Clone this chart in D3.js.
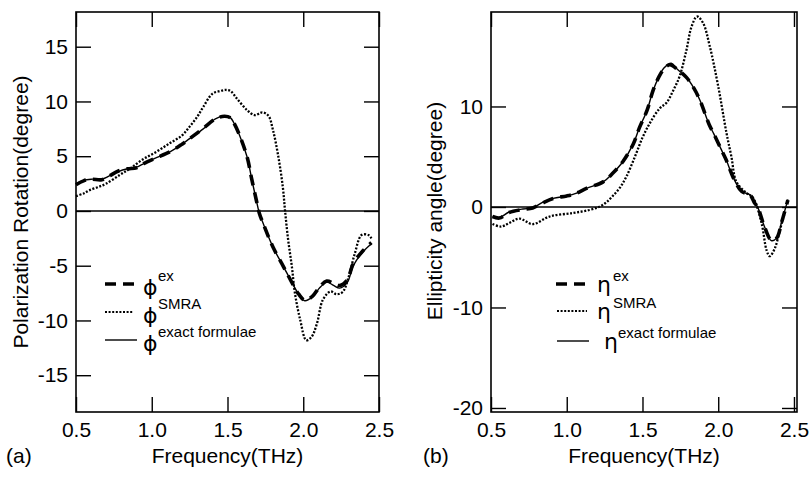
<!DOCTYPE html>
<html>
<head>
<meta charset="utf-8">
<script src="https://cdn.jsdelivr.net/npm/d3@7"></script>
<style>
  body { margin: 0; background: #fff; }
  svg text { font-family: "Liberation Sans", Arial, Helvetica, sans-serif; fill: #000; }
</style>
</head>
<body>
<div id="fig"></div>
<script>
// tick values and labels
const freqTicks = [0.5, 1.0, 1.5, 2.0, 2.5];
const freqTickLabels = ['0.5', '1.0', '1.5', '2.0', '2.5'];
const phiTicks = [-15, -10, -5, 0, 5, 10, 15];
const phiTickLabels = ['-15', '-10', '-5', '0', '5', '10', '15'];
const etaTicks = [-20, -10, 0, 10];
const etaTickLabels = ['-20', '-10', '0', '10'];

const legendNames = ['ex', 'SMRA', 'exact formulae'];

// (a) polarization rotation, degree
const phiExFreq = [0.50, 0.55, 0.60, 0.67, 0.72, 0.78, 0.84, 0.90, 0.95, 1.02, 1.12, 1.20, 1.25, 1.34, 1.42, 1.48, 1.52, 1.54, 1.58, 1.63, 1.66, 1.69, 1.71, 1.74, 1.80, 1.87, 1.92, 1.97, 2.01, 2.06, 2.11, 2.155, 2.20, 2.24, 2.29, 2.33, 2.39, 2.45];
const phiExVal = [2.4, 2.75, 2.9, 2.85, 3.2, 3.65, 3.85, 3.95, 4.35, 4.8, 5.4, 6.1, 6.6, 7.55, 8.4, 8.65, 8.5, 8.1, 6.9, 4.9, 2.9, 1.0, -0.2, -1.3, -3.3, -5.1, -6.4, -7.6, -8.15, -7.8, -6.9, -6.4, -6.6, -6.8, -6.3, -4.8, -3.7, -2.9];

const phiExactFreq = [0.50, 0.55, 0.60, 0.67, 0.72, 0.78, 0.84, 0.90, 0.95, 1.02, 1.12, 1.20, 1.25, 1.34, 1.42, 1.48, 1.52, 1.54, 1.58, 1.63, 1.66, 1.69, 1.71, 1.74, 1.80, 1.87, 1.92, 1.97, 2.01, 2.06, 2.11, 2.155, 2.20, 2.24, 2.29, 2.33, 2.39, 2.45];
const phiExactVal = [2.5, 2.8, 2.9, 2.9, 3.2, 3.6, 3.85, 4.0, 4.35, 4.8, 5.4, 6.1, 6.6, 7.5, 8.4, 8.7, 8.5, 8.1, 6.9, 4.9, 2.9, 1.0, -0.2, -1.3, -3.3, -5.1, -6.4, -7.6, -8.2, -7.85, -7.0, -6.5, -6.8, -7.05, -6.55, -5.0, -3.8, -3.0];

const phiSmraFreq = [0.50, 0.55, 0.59, 0.65, 0.70, 0.79, 0.86, 0.94, 1.03, 1.12, 1.20, 1.25, 1.30, 1.34, 1.40, 1.45, 1.49, 1.52, 1.56, 1.63, 1.68, 1.73, 1.77, 1.80, 1.835, 1.865, 1.88, 1.90, 1.925, 1.945, 1.98, 2.02, 2.055, 2.09, 2.13, 2.18, 2.22, 2.26, 2.30, 2.34, 2.385, 2.43, 2.45];
const phiSmraVal = [1.35, 1.6, 1.9, 2.2, 2.5, 3.3, 3.9, 4.7, 5.4, 6.2, 6.9, 7.7, 8.6, 9.5, 10.7, 10.95, 11.05, 10.95, 10.3, 9.2, 8.75, 9.0, 8.7, 7.4, 5.0, 2.2, 0.0, -2.6, -5.1, -7.5, -9.95, -11.8, -11.5, -10.3, -8.1, -7.35, -7.6, -7.4, -6.0, -3.9, -2.2, -2.2, -2.5];

// (b) ellipticity angle, degree
const etaExFreq = [0.51, 0.555, 0.62, 0.71, 0.775, 0.84, 0.91, 1.00, 1.06, 1.13, 1.24, 1.30, 1.37, 1.44, 1.48, 1.53, 1.57, 1.61, 1.64, 1.68, 1.73, 1.79, 1.84, 1.88, 1.94, 1.97, 2.03, 2.055, 2.10, 2.155, 2.21, 2.24, 2.26, 2.305, 2.35, 2.385, 2.42, 2.46];
const etaExVal = [-0.95, -1.1, -0.55, -0.25, -0.1, 0.4, 0.85, 1.1, 1.35, 1.85, 2.5, 3.3, 4.5, 6.3, 7.9, 9.6, 11.6, 13.0, 13.7, 14.15, 13.7, 12.9, 11.8, 10.6, 8.2, 7.3, 5.4, 4.6, 2.9, 1.55, 1.2, 0.4, 0.0, -1.95, -3.3, -3.1, -1.45, 0.7];

const etaExactFreq = [0.51, 0.555, 0.62, 0.71, 0.775, 0.84, 0.91, 1.00, 1.06, 1.13, 1.24, 1.30, 1.37, 1.44, 1.48, 1.53, 1.57, 1.61, 1.64, 1.69, 1.73, 1.79, 1.84, 1.88, 1.94, 1.97, 2.03, 2.055, 2.10, 2.155, 2.21, 2.24, 2.26, 2.305, 2.35, 2.385, 2.42, 2.46];
const etaExactVal = [-0.9, -1.05, -0.5, -0.2, -0.1, 0.45, 0.85, 1.1, 1.35, 1.85, 2.5, 3.3, 4.5, 6.3, 7.9, 9.6, 11.6, 13.0, 13.8, 14.3, 13.7, 12.9, 11.8, 10.6, 8.2, 7.3, 5.4, 4.6, 2.9, 1.55, 1.2, 0.4, 0.0, -1.95, -3.35, -3.1, -1.4, 0.75];

const etaSmraFreq = [0.51, 0.566, 0.62, 0.687, 0.775, 0.886, 1.04, 1.15, 1.216, 1.26, 1.304, 1.35, 1.393, 1.45, 1.50, 1.547, 1.613, 1.66, 1.70, 1.745, 1.79, 1.823, 1.86, 1.90, 1.944, 2.0, 2.054, 2.087, 2.12, 2.186, 2.23, 2.286, 2.319, 2.34, 2.374, 2.407, 2.44];
const etaSmraVal = [-1.7, -1.95, -1.6, -1.15, -1.7, -0.95, -0.6, -0.3, 0.03, 0.45, 1.1, 1.9, 3.0, 5.0, 6.9, 8.3, 9.8, 10.4, 11.5, 13.0, 15.6, 17.9, 18.95, 18.3, 16.0, 12.0, 7.4, 5.0, 2.5, 1.4, 0.9, -1.6, -4.3, -4.9, -4.1, -2.3, -0.5];

// line looks for the three series
const styles = {
    ex: { width: 3.6, dash: '11,7' },
    smra: { width: 2.3, dash: '2,1.6' },
    exact: { width: 1.4, dash: null }
};

const svg = d3.select('#fig').append('svg')
    .attr('width', 809)
    .attr('height', 477);

/*
one framed panel: box is [left, top, right, bottom] in pixels
*/
class Panel {

    constructor(svg, box, xDomain, yDomain) {
        this.box = box;
        this.g = svg.append('g');
        this.x = d3.scaleLinear(xDomain, [box[0], box[2]]);
        this.y = d3.scaleLinear(yDomain, [box[3], box[1]]);
    }

    axes(xTicks, xLabels, yTicks, yLabels) {
        const [l, t, r, b] = this.box;
        const tick = -15;

        const bottom = d3.axisBottom(this.x).tickValues(xTicks)
            .tickFormat((d, i) => xLabels[i]).tickSizeInner(tick).tickSizeOuter(0).tickPadding(10);
        const top = d3.axisTop(this.x).tickValues(xTicks)
            .tickFormat('').tickSizeInner(tick).tickSizeOuter(0);
        const left = d3.axisLeft(this.y).tickValues(yTicks)
            .tickFormat((d, i) => yLabels[i]).tickSizeInner(tick).tickSizeOuter(0).tickPadding(8);
        const right = d3.axisRight(this.y).tickValues(yTicks)
            .tickFormat('').tickSizeInner(tick).tickSizeOuter(0);

        this.g.append('g').attr('transform', `translate(0,${b})`).call(bottom);
        this.g.append('g').attr('transform', `translate(0,${t})`).call(top);
        this.g.append('g').attr('transform', `translate(${l},0)`).call(left);
        this.g.append('g').attr('transform', `translate(${r},0)`).call(right);

        this.g.selectAll('.domain').remove();
        this.g.selectAll('.tick line').attr('stroke', '#000').attr('stroke-width', 1.4);
        this.g.selectAll('.tick text')
            .attr('font-family', null)
            .style('font-size', '21px');

        // zero line across the panel
        this.g.append('line')
            .attr('x1', l).attr('x2', r)
            .attr('y1', this.y(0)).attr('y2', this.y(0))
            .attr('stroke', '#000').attr('stroke-width', 1.5);

        // frame
        this.g.append('rect')
            .attr('x', l).attr('y', t)
            .attr('width', r - l).attr('height', b - t)
            .attr('fill', 'none').attr('stroke', '#000').attr('stroke-width', 1.6);
    }

    series(freq, vals, style) {
        const line = d3.line()
            .x(d => this.x(d[0]))
            .y(d => this.y(d[1]))
            .curve(d3.curveCatmullRom.alpha(0.5));

        this.g.append('path')
            .datum(d3.zip(freq, vals))
            .attr('d', line)
            .attr('fill', 'none')
            .attr('stroke', '#000')
            .attr('stroke-width', style.width)
            .attr('stroke-dasharray', style.dash);
    }

    // rows: [sampleStart, sampleEnd, y, glyphX, supX]
    legend(glyph, names, rows, looks, glyphDy) {
        rows.forEach((row, i) => {
            const [x1, x2, y, gx, sx] = row;
            this.g.append('line')
                .attr('x1', x1).attr('x2', x2).attr('y1', y).attr('y2', y)
                .attr('stroke', '#000')
                .attr('stroke-width', i === 1 ? 1.8 : looks[i].width)
                .attr('stroke-dasharray', looks[i].dash);
            this.g.append('text')
                .attr('x', gx).attr('y', y + glyphDy)
                .style('font-family', '"DejaVu Sans", "Liberation Sans", sans-serif')
                .style('font-size', '22px')
                .text(glyph);
            this.g.append('text')
                .attr('x', sx).attr('y', y - 3)
                .style('font-size', '15px')
                .text(names[i]);
        });
    }
}

const looks = [styles.ex, styles.smra, styles.exact];

// panel (a)
const pa = new Panel(svg, [76, 12, 379, 412], [0.5, 2.5], [-18.36, 18.17]);
pa.axes(freqTicks, freqTickLabels, phiTicks, phiTickLabels);
pa.series(phiExactFreq, phiExactVal, styles.exact);
pa.series(phiExFreq, phiExVal, styles.ex);
pa.series(phiSmraFreq, phiSmraVal, styles.smra);
pa.legend('\u03D5', legendNames, [
    [105, 137, 284, 143, 158],
    [105, 133, 312, 143, 158],
    [105, 137, 340, 143, 158]
], looks, 11);

// panel (b)
const pb = new Panel(svg, [491, 12, 797, 412], [0.5, 2.52], [-20.4, 19.4]);
pb.axes(freqTicks, freqTickLabels, etaTicks, etaTickLabels);
pb.series(etaExactFreq, etaExactVal, styles.exact);
pb.series(etaExFreq, etaExVal, styles.ex);
pb.series(etaSmraFreq, etaSmraVal, styles.smra);
pb.legend('\u03B7', legendNames, [
    [556, 590, 284, 597, 613],
    [557, 587, 311, 597, 613],
    [557, 589, 341, 604, 618]
], looks, 8);

// axis titles and panel letters
const titles = svg.append('g').style('font-size', '21px');
titles.append('text')
    .attr('text-anchor', 'middle')
    .attr('transform', 'translate(28,212) rotate(-90)')
    .text('Polarization Rotation(degree)');
titles.append('text')
    .attr('text-anchor', 'middle')
    .attr('transform', 'translate(442,211) rotate(-90)')
    .text('Ellipticity angle(degree)');
titles.append('text').attr('x', 227.5).attr('y', 463).attr('text-anchor', 'middle').text('Frequency(THz)');
titles.append('text').attr('x', 644).attr('y', 463).attr('text-anchor', 'middle').text('Frequency(THz)');
titles.append('text').attr('x', 6).attr('y', 463).text('(a)');
titles.append('text').attr('x', 423).attr('y', 463).text('(b)');
</script>
</body>
</html>
